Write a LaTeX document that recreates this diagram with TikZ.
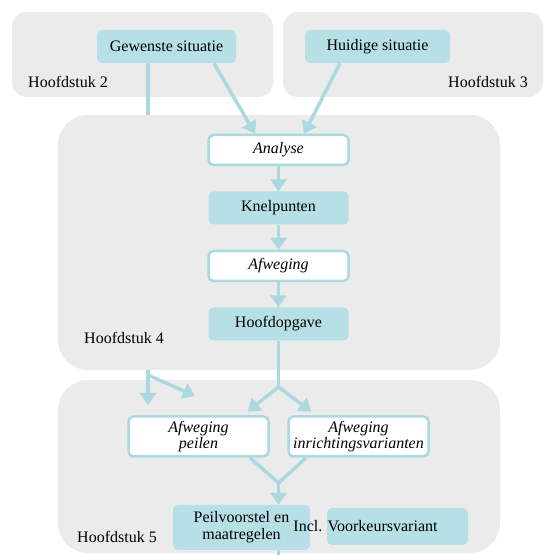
\documentclass[tikz,border=0pt]{standalone}
\usepackage{fontspec}
\setmainfont{Liberation Serif}
\usepackage{tikz}
\usetikzlibrary{arrows.meta}
\definecolor{chapgrey}{HTML}{EBEBEB}
\definecolor{tealfill}{HTML}{B6E0E5}
\definecolor{tealline}{HTML}{AAD9DF}
\tikzstyle{chapter} = [fill=chapgrey, draw=none]
\tikzstyle{result} = [rectangle, rounded corners=5pt, minimum height=33pt, text centered, fill=tealfill, draw=none, inner sep=2pt]
\tikzstyle{action} = [rectangle, rounded corners=5pt, minimum width=140pt, minimum height=30pt, text centered, fill=white, draw=tealline, line width=2.5pt, font=\fontsize{16}{16}\selectfont\itshape, inner sep=2pt]
\tikzstyle{chaplabel} = [inner sep=0pt]
\tikzstyle{arrow} = [tealline, line width=3.5pt, -{Triangle[width=16pt,length=12pt]}]
\tikzstyle{line} = [tealline, line width=3.5pt]

\begin{document}
\begin{tikzpicture}[x=1pt, y=1pt, node distance=58pt, font=\fontsize{16}{17}\selectfont]
\useasboundingbox (0,0) rectangle (545,555);

% chapters 2, 3 and 5
\fill [chapter, rounded corners=15pt] (12,543) rectangle (273,458);
\fill [chapter, rounded corners=15pt] (283,543) rectangle (543,458);
\fill [chapter, rounded corners=30pt] (58,175) rectangle (500,2);

\node (gew) [result, minimum width=139pt] at (166.5,508.5) {Gewenste situatie};
\node (hui) [result, minimum width=145pt] at (377.5,508.5) {Huidige situatie};
\node (h2) [chaplabel, anchor=west] at (28,473) {Hoofdstuk 2};
\node (h3) [chaplabel, anchor=east] at (528,473) {Hoofdstuk 3};

% straight down to chapter 5
\coordinate (fork) at (148,180);
\coordinate (tipa) at (148,150);
\coordinate (tipb) at (195,159);
\draw [line] ([xshift=-18.5pt]gew.south) -- (fork);
\draw [arrow] (fork) -- (tipa);
\draw [arrow] (fork) -- (tipb);

% chapter 4
\fill [chapter, rounded corners=30pt] (58,440) rectangle (500,185);

\node (ana) [action] at (278.5,405) {Analyse};
\node (kne) [result, minimum width=140pt, below of=ana] {Knelpunten};
\node (afw) [action, below of=kne] {Afweging};
\node (hoo) [result, minimum width=140pt, below of=afw] {Hoofdopgave};
\node (h4) [chaplabel, anchor=west] at (84,217) {Hoofdstuk 4};

\node (peil) [action, minimum height=40pt, align=center] at (198.5,118.5) {Afweging\\peilen};
\node (inr) [action, minimum height=40pt, align=center] at (358.5,118.5) {Afweging\\inrichtingsvarianten};
\node (pvs) [result, minimum width=137pt, minimum height=45pt, align=center] at (241.5,27.5) {Peilvoorstel en\\maatregelen};
\node (incl) [result, minimum width=141pt, minimum height=37pt] at (397.5,28.5) {\hspace*{-64pt}Incl. Voorkeursvariant};
\node (h5) [chaplabel, anchor=west] at (77,18) {Hoofdstuk 5};

\coordinate (split) at (278.5,168);
\coordinate (merge) at (278.5,72);
\coordinate (out) at (278.5,0);

\draw [arrow] ([xshift=47.5pt]gew.south) -- ([xshift=-23.5pt]ana.north);
\draw [arrow] ([xshift=-37.5pt]hui.south) -- ([xshift=25.5pt]ana.north);
\draw [arrow] (ana) -- (kne);
\draw [arrow] (kne) -- (afw);
\draw [arrow] (afw) -- (hoo);
\draw [line] (hoo) -- (split);
\draw [arrow, shorten >=6pt] (split) -- ([xshift=44.5pt]peil.north);
\draw [arrow, shorten >=6pt] (split) -- ([xshift=-42.5pt]inr.north);
\draw [line] ([xshift=51.5pt]peil.south) -- (merge);
\draw [line] ([xshift=-52.5pt]inr.south) -- (merge);
\draw [arrow] (merge) -- ([xshift=37pt]pvs.north);
\draw [line] ([xshift=37pt]pvs.south) -- (out);

\end{tikzpicture}
\end{document}
